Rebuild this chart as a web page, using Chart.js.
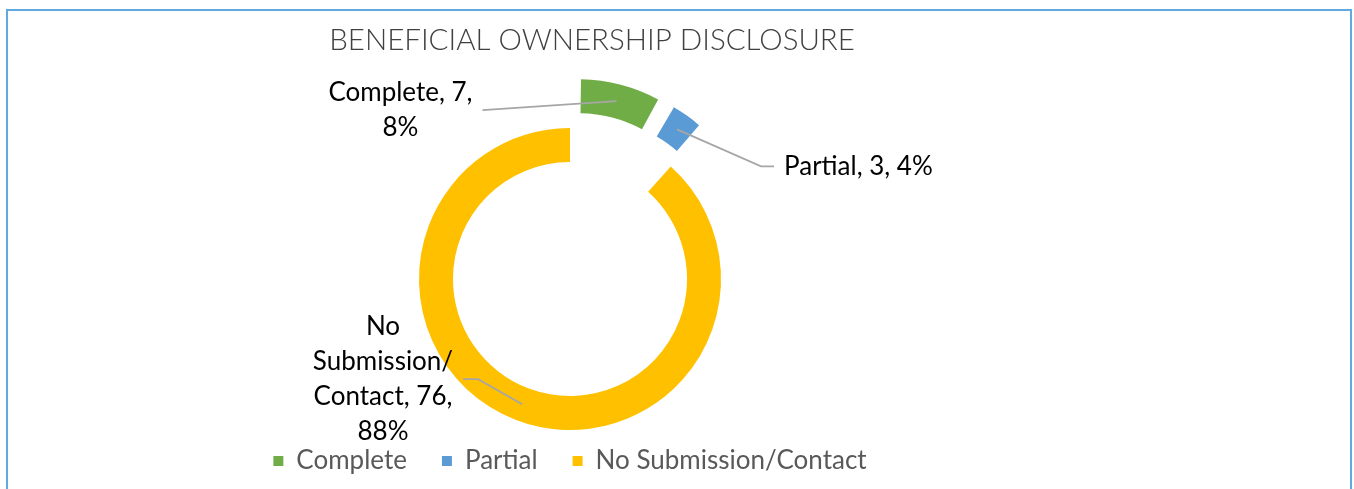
<!DOCTYPE html>
<html>
<head>
<meta charset="utf-8">
<title>Beneficial Ownership Disclosure</title>
<script src="https://cdn.jsdelivr.net/npm/chart.js@4.4.0/dist/chart.umd.min.js"></script>
<style>
  html, body { margin: 0; padding: 0; background: #fff; overflow: hidden; }
  #frame { position: absolute; left: 6px; top: 9px; width: 1342px; height: 600px; border: 2px solid #62a9df; }
  #chart { position: absolute; left: 0; top: 0; }
</style>
</head>
<body>
<div id="frame"></div>
<canvas id="chart" width="1354" height="489"></canvas>
<script>
const chartTitle = "BENEFICIAL OWNERSHIP DISCLOSURE";
const categories = ["Complete", "Partial", "No Submission/Contact"];
const counts = [7, 3, 76];
const pctLabels = [8, 4, 88];   // as printed on the chart

const sliceColors = ["#70ad47", "#5b9bd5", "#ffc000"];
const explode = [132, 112, 0];

// where each callout sits relative to its slice (leader line end, elbow, text side)
const calloutStyle = [
    { dx: -134, dy: 9, elbow: 0, side: -1, wrap: 150 },
    { dx: 84, dy: 37, elbow: 13, side: 1, wrap: 400 },
    { dx: -44, dy: -25, elbow: -15, side: -1, wrap: 150 }
];

const labelFont = "26px Lato, 'Open Sans', sans-serif";

function wrapText(ctx, text, maxWidth) {
    const tokens = text.match(/[^ \/]+[\/ ]?/g);
    const lines = [];
    let line = "";
    tokens.forEach(tok => {
        const test = line + tok;
        if (line && ctx.measureText(test.trimEnd()).width > maxWidth) {
            lines.push(line.trimEnd());
            line = tok;
        } else {
            line = test;
        }
    });
    if (line) lines.push(line.trimEnd());
    return lines;
}

const titlePlugin = {
    id: "excelTitle",
    afterDraw(chart) {
        const ctx = chart.ctx;
        ctx.save();
        ctx.font = "300 29.5px Lato, 'Open Sans', sans-serif";
        ctx.fillStyle = "#404040";
        ctx.textAlign = "center";
        ctx.textBaseline = "alphabetic";
        ctx.fillText(chartTitle, 592, 50);
        ctx.restore();
    }
};

const calloutPlugin = {
    id: "callouts",
    afterDatasetsDraw(chart) {
        const ctx = chart.ctx;
        const meta = chart.getDatasetMeta(0);
        ctx.save();
        ctx.font = labelFont;
        meta.data.forEach((arc, i) => {
            const p = arc.getProps(["x", "y", "startAngle", "endAngle", "innerRadius", "outerRadius", "circumference"], true);
            const mid = (p.startAngle + p.endAngle) / 2;
            const t = (arc.options.offset || 0) / 4;
            const fix = 1 - Math.sin(Math.min(Math.PI, p.circumference));
            const r = (p.innerRadius + p.outerRadius) / 2 + t + t * fix;
            const ax = p.x + Math.cos(mid) * r;
            const ay = p.y + Math.sin(mid) * r;

            const s = calloutStyle[i];
            const bx = ax + s.dx, by = ay + s.dy;
            const ex = bx + s.elbow;

            ctx.strokeStyle = "#a6a6a6";
            ctx.lineWidth = 1.8;
            ctx.beginPath();
            ctx.moveTo(ax, ay);
            ctx.lineTo(bx, by);
            ctx.lineTo(ex, by);
            ctx.stroke();

            const text = `${categories[i]}, ${counts[i]}, ${pctLabels[i]}%`;
            const lines = wrapText(ctx, text, s.wrap);
            const w = Math.max(...lines.map(l => ctx.measureText(l).width));
            const cx = ex + s.side * (10 + w / 2);
            const lh = 35;
            let y = by - (lines.length - 1) * lh / 2;
            ctx.fillStyle = "#000";
            ctx.textAlign = "center";
            ctx.textBaseline = "middle";
            lines.forEach(l => {
                ctx.fillText(l, cx, y);
                y += lh;
            });
        });
        ctx.restore();
    }
};

new Chart(document.getElementById("chart"), {
    type: "doughnut",
    data: {
        labels: categories,
        datasets: [{
            data: counts,
            backgroundColor: sliceColors,
            borderWidth: 0,
            offset: explode,
            hoverOffset: 0,
            clip: false
        }]
    },
    options: {
        responsive: false,
        animation: false,
        devicePixelRatio: 1,
        radius: 151,
        cutout: "77.5%",
        layout: { padding: { left: 0, right: 214, top: 145, bottom: 5 } },
        plugins: {
            legend: {
                position: "bottom",
                labels: {
                    boxWidth: 10,
                    boxHeight: 10,
                    padding: 35,
                    color: "#595959",
                    font: { family: "Lato", size: 26 }
                }
            },
            tooltip: { enabled: false }
        }
    },
    plugins: [titlePlugin, calloutPlugin]
});
</script>
</body>
</html>
